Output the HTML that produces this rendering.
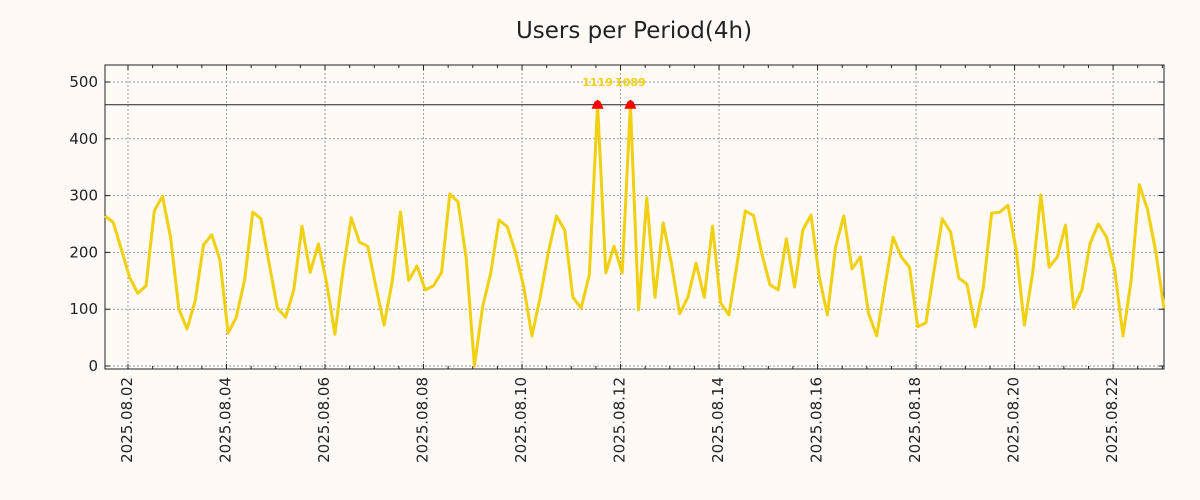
<!DOCTYPE html>
<html><head><meta charset="utf-8"><style>
body{margin:0;background:#fffaf6;}
svg{display:block;font-family:"DejaVu Sans","Liberation Sans",sans-serif;}
</style></head><body>
<svg id="chart" width="1200" height="500">
<rect width="1200" height="500" fill="#fffaf6"/>
<text x="634" y="38" font-size="23" text-anchor="middle" fill="#222">Users per Period(4h)</text>
<g id="grid"></g><g id="axes"></g><g id="series"></g>
</svg>
<script>
const values = [264,253,205,156,128,141,273,299,225,100,65,116,213,231,187,58,86,151,271,259,180,102,86,134,246,165,215,146,56,169,261,218,211,140,
72,150,271,151,176,134,141,165,303,289,190,0,104,164,257,245,200,140,53,120,200,264,239,121,102,160,1119,164,211,164,1089,99,296,121,252,181,92,121,181,121,246,111,90,180,273,265,199,143,134,224,139,239,266,157,90,210,264,171,192,93,53,140,227,192,174,69,76,169,259,236,155,144,69,139,269,271,283,204,72,164,301,174,192,248,102,134,216,250,227,169,53,151,319,275,201,102];
const yTicks = [0,100,200,300,400,500];
const xTickLabels = ["2025.08.02","2025.08.04","2025.08.06","2025.08.08","2025.08.10","2025.08.12","2025.08.14","2025.08.16","2025.08.18","2025.08.20","2025.08.22"];
const firstTickPeriod = 2.8;
const periodsPerLabel = 12;
const clipValue = 460;

const NS="http://www.w3.org/2000/svg";
const L=105,R=1164,T=65,B=369;
const xS=i=>L+i*(R-L)/(values.length-1);
const yS=v=>366-v*0.568;
function mk(tag,attrs,parent){const e=document.createElementNS(NS,tag);for(const k in attrs)e.setAttribute(k,attrs[k]);parent.appendChild(e);return e;}
const grid=document.getElementById('grid'),axes=document.getElementById('axes'),series=document.getElementById('series');
const fr=mk('rect',{x:L,y:T,width:R-L,height:B-T,fill:'none',stroke:'#222','stroke-width':1},axes);


yTicks.forEach(v=>{
  const y=yS(v);
  const g=mk('line',{x1:L,x2:R,y1:y,y2:y,stroke:'#9a9a9a','stroke-dasharray':'2,2'},grid);
  
  
  mk('line',{x1:L,x2:L+5,y1:y,y2:y,stroke:'#222'},axes);
  mk('line',{x1:R-5,x2:R,y1:y,y2:y,stroke:'#222'},axes);
  const t=mk('text',{x:L-7,y:y+5,'font-size':15,'text-anchor':'end',fill:'#222'},axes);
  t.textContent=v;
  
  
});
xTickLabels.forEach((lab,k)=>{
  const p=firstTickPeriod+k*periodsPerLabel;const x=xS(p);
  const g=mk('line',{x1:x,x2:x,y1:T,y2:B,stroke:'#9a9a9a','stroke-dasharray':'2,2'},grid);
  
  
  for(let h=0;h<4;h++){const xm=xS(p+h*3);if(xm>R)break;
    mk('line',{x1:xm,x2:xm,y1:B,y2:B-(h?3:5),stroke:'#222'},axes);
    mk('line',{x1:xm,x2:xm,y1:T,y2:T+(h?3:5),stroke:'#222'},axes);}
  const t=mk('text',{transform:`translate(${x+4},377) rotate(-90)`,'font-size':15,'text-anchor':'end',fill:'#222'},axes);
  t.textContent=lab;
  
  
});
const cl=mk('line',{x1:L,x2:R,y1:yS(clipValue),y2:yS(clipValue),stroke:'#222','stroke-width':1},axes);


const pts=values.map((v,i)=>xS(i).toFixed(1)+','+yS(Math.min(v,clipValue)).toFixed(1)).join(' ');
const pl=mk('polyline',{points:pts,fill:'none',stroke:'#f0d010','stroke-width':3,'stroke-linejoin':'round'},series);


values.forEach((v,i)=>{if(v>clipValue){
  const x=xS(i),y=yS(clipValue);
  const m=mk('polygon',{points:`${x-6},${y+4} ${x+6},${y+4} ${x+3},${y-3} ${x},${y-5} ${x-3},${y-3}`,fill:'#f00'},series);
  
  
  const t=mk('text',{x:x,y:86,'font-size':11,'font-weight':'bold','text-anchor':'middle',fill:'#f0d010'},series);
  t.textContent=v;
  
  
}});
</script>
</body></html>
